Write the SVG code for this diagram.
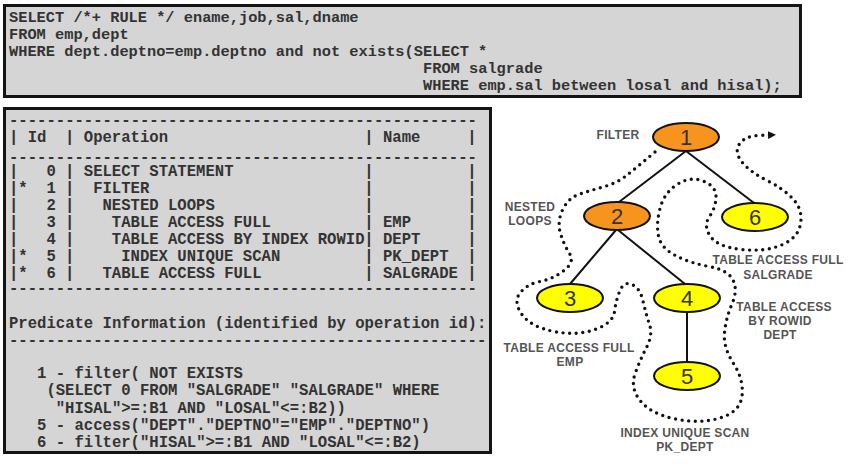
<svg xmlns="http://www.w3.org/2000/svg" width="859" height="466" viewBox="0 0 859 466" xml:space="preserve">
<style>
  .box { fill: #d5d5d5; stroke: #141414; stroke-width: 3; }
  .sql { font-family: "Liberation Mono", "DejaVu Sans Mono", monospace; font-weight: bold; font-size: 15.33px; fill: #333333; }
  .plan { font-family: "Liberation Mono", "DejaVu Sans Mono", monospace; font-weight: bold; font-size: 15.6px; fill: #333333; }
  .edge { stroke: #111; stroke-width: 2; fill: none; }
  .path { stroke: #111; stroke-width: 3.4; fill: none; stroke-dasharray: 0 6.6; stroke-linecap: round; }
  .orange { fill: #f7941d; stroke: #111; stroke-width: 2; }
  .yellow { fill: #ffff00; stroke: #111; stroke-width: 2; }
  .num { font-family: "Liberation Sans", Arial, sans-serif; font-size: 22px; fill: #333; text-anchor: middle; }
  .lbl { font-family: "Liberation Sans", Arial, sans-serif; font-weight: bold; font-size: 12px; letter-spacing: 0.3px; fill: #555; text-anchor: middle; }
</style>
<defs>
  <marker id="arrow" markerUnits="userSpaceOnUse" markerWidth="9" markerHeight="8" refX="2" refY="4" orient="auto">
    <path d="M0,0 L8,4 L0,8 z" fill="#111"/>
  </marker>
</defs>
<rect width="859" height="466" fill="#ffffff"/>

<g id="sql-box">
  <rect class="box" x="4.5" y="5.5" width="796" height="91"/>
  <text class="sql" x="9" y="22">SELECT /*+ RULE */ ename,job,sal,dname</text>
  <text class="sql" x="9" y="39">FROM emp,dept</text>
  <text class="sql" x="9" y="56">WHERE dept.deptno=emp.deptno and not exists(SELECT *</text>
  <text class="sql" x="423" y="73">FROM salgrade</text>
  <text class="sql" x="423" y="90">WHERE emp.sal between losal and hisal);</text>
</g>

<g id="plan-box">
  <rect class="box" x="4.5" y="108.5" width="486" height="344"/>
  <text class="plan" x="9" y="124.5">--------------------------------------------------</text>
  <text class="plan" y="142"><tspan x="9">|</tspan><tspan x="27.7">Id</tspan><tspan x="65.1">|</tspan><tspan x="83.8">Operation</tspan><tspan x="364.3">|</tspan><tspan x="383">Name</tspan><tspan x="467.15">|</tspan></text>
  <text class="plan" x="9" y="162">--------------------------------------------------</text>
  <text class="plan" y="176"><tspan x="9">|</tspan><tspan x="46.4">0</tspan><tspan x="65.1">|</tspan><tspan x="83.8">SELECT STATEMENT</tspan><tspan x="364.3">|</tspan><tspan x="467.15">|</tspan></text>
  <text class="plan" y="193"><tspan x="9">|</tspan><tspan x="18.35">*</tspan><tspan x="46.4">1</tspan><tspan x="65.1">|</tspan><tspan x="93.15">FILTER</tspan><tspan x="364.3">|</tspan><tspan x="467.15">|</tspan></text>
  <text class="plan" y="210"><tspan x="9">|</tspan><tspan x="46.4">2</tspan><tspan x="65.1">|</tspan><tspan x="102.5">NESTED LOOPS</tspan><tspan x="364.3">|</tspan><tspan x="467.15">|</tspan></text>
  <text class="plan" y="227"><tspan x="9">|</tspan><tspan x="46.4">3</tspan><tspan x="65.1">|</tspan><tspan x="111.85">TABLE ACCESS FULL</tspan><tspan x="364.3">|</tspan><tspan x="383">EMP</tspan><tspan x="467.15">|</tspan></text>
  <text class="plan" y="244"><tspan x="9">|</tspan><tspan x="46.4">4</tspan><tspan x="65.1">|</tspan><tspan x="111.85">TABLE ACCESS BY INDEX ROWID</tspan><tspan x="364.3">|</tspan><tspan x="383">DEPT</tspan><tspan x="467.15">|</tspan></text>
  <text class="plan" y="261"><tspan x="9">|</tspan><tspan x="18.35">*</tspan><tspan x="46.4">5</tspan><tspan x="65.1">|</tspan><tspan x="121.2">INDEX UNIQUE SCAN</tspan><tspan x="364.3">|</tspan><tspan x="383">PK_DEPT</tspan><tspan x="467.15">|</tspan></text>
  <text class="plan" y="278"><tspan x="9">|</tspan><tspan x="18.35">*</tspan><tspan x="46.4">6</tspan><tspan x="65.1">|</tspan><tspan x="102.5">TABLE ACCESS FULL</tspan><tspan x="364.3">|</tspan><tspan x="383">SALGRADE</tspan><tspan x="467.15">|</tspan></text>
  <text class="plan" x="9" y="293">--------------------------------------------------</text>
  <text class="plan" x="9" y="328">Predicate Information (identified by operation id):</text>
  <text class="plan" x="9" y="344.5">---------------------------------------------------</text>
  <text class="plan" x="37.05" y="378">1 - filter( NOT EXISTS</text>
  <text class="plan" x="46.4" y="395">(SELECT 0 FROM "SALGRADE" "SALGRADE" WHERE</text>
  <text class="plan" x="55.75" y="413">"HISAL"&gt;=:B1 AND "LOSAL"&lt;=:B2))</text>
  <text class="plan" x="37.05" y="430">5 - access("DEPT"."DEPTNO"="EMP"."DEPTNO")</text>
  <text class="plan" x="37.05" y="447">6 - filter("HISAL"&gt;=:B1 AND "LOSAL"&lt;=:B2)</text>
</g>

<g id="connectors">
  <line class="edge" x1="686" y1="151" x2="619" y2="202"/>
  <line class="edge" x1="686" y1="151" x2="754" y2="203"/>
  <line class="edge" x1="616" y1="230" x2="570" y2="284"/>
  <line class="edge" x1="618" y1="230" x2="685" y2="284"/>
  <line class="edge" x1="687" y1="312" x2="687" y2="362"/>
  <path class="path" marker-end="url(#arrow)" d="M655,152 Q636,168 626.5,175.5 Q617,183 604.5,186.5 Q592,190 580,194 Q568,198 562.5,210 Q557,222 560.5,233.5 Q564,245 569.5,253.5 Q575,262 564,270.5 Q553,279 540,281.5 Q527,284 520,293 Q513,302 522,314.5 Q531,327 554,331.5 Q577,336 595,329.5 Q613,323 614.5,311.5 Q616,300 620,290.5 Q624,281 632,284.5 Q640,288 643,301 Q646,314 649.5,324.5 Q653,335 646.5,347.5 Q640,360 635,374 Q630,388 640.5,401 Q651,414 675.5,419 Q700,424 720,418 Q740,412 742,396 Q744,380 733.5,363.5 Q723,347 724.5,332.5 Q726,318 732,304 Q738,290 733,280 Q728,270 709,266.5 Q690,263 675.5,255.5 Q661,248 658.5,236 Q656,224 660,208.5 Q664,193 677,184.5 Q690,176 703,181 Q716,186 716,196.5 Q716,207 709.5,216.5 Q703,226 710.5,236.5 Q718,247 741.5,249.5 Q765,252 781.5,245 Q798,238 800.5,224 Q803,210 793.5,199.5 Q784,189 767,180.5 Q750,172 742,162 Q734,152 739.5,144 Q745,136 758.5,135.5 L770,135"/>
</g>

<g id="node1">
  <ellipse class="orange" cx="686" cy="137" rx="33" ry="14"/>
  <text class="num" x="686" y="145">1</text>
  <text class="lbl" x="618" y="139">FILTER</text>
</g>
<g id="node2">
  <ellipse class="orange" cx="617" cy="216" rx="33" ry="14"/>
  <text class="num" x="617" y="224">2</text>
  <text class="lbl" x="530" y="211">NESTED</text>
  <text class="lbl" x="530" y="225">LOOPS</text>
</g>
<g id="node3">
  <ellipse class="yellow" cx="570" cy="298" rx="33" ry="14"/>
  <text class="num" x="570" y="306">3</text>
  <text class="lbl" x="569" y="352">TABLE ACCESS FULL</text>
  <text class="lbl" x="570" y="366">EMP</text>
</g>
<g id="node4">
  <ellipse class="yellow" cx="687" cy="298" rx="33" ry="14"/>
  <text class="num" x="687" y="306">4</text>
  <text class="lbl" x="784" y="311">TABLE ACCESS</text>
  <text class="lbl" x="780" y="325">BY ROWID</text>
  <text class="lbl" x="780" y="339">DEPT</text>
</g>
<g id="node5">
  <ellipse class="yellow" cx="687" cy="376" rx="33" ry="14"/>
  <text class="num" x="687" y="384">5</text>
  <text class="lbl" x="685" y="437">INDEX UNIQUE SCAN</text>
  <text class="lbl" x="685" y="451">PK_DEPT</text>
</g>
<g id="node6">
  <ellipse class="yellow" cx="755" cy="217" rx="33" ry="14"/>
  <text class="num" x="755" y="225">6</text>
  <text class="lbl" x="778" y="264">TABLE ACCESS FULL</text>
  <text class="lbl" x="778" y="279">SALGRADE</text>
</g>
</svg>
